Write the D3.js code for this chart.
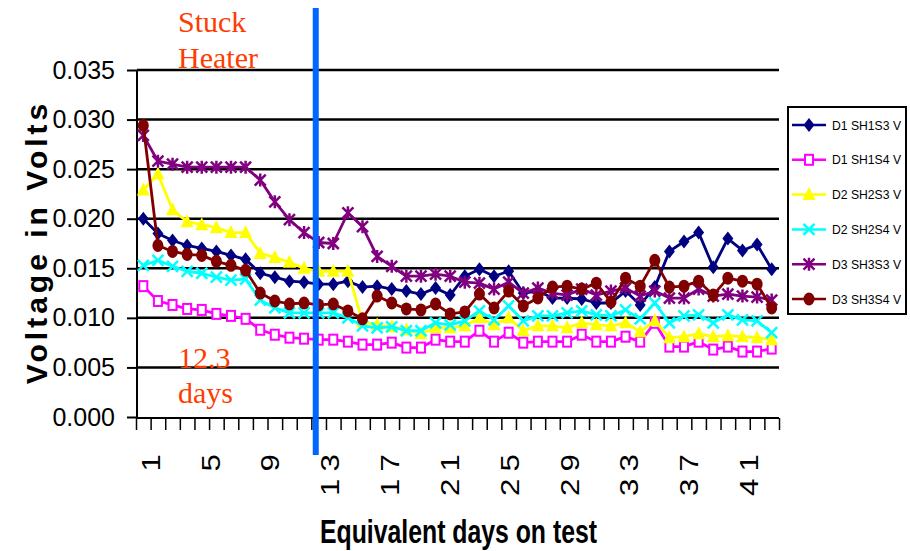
<!DOCTYPE html>
<html><head><meta charset="utf-8">
<script src="https://cdn.jsdelivr.net/npm/d3@7/dist/d3.min.js"></script>
<style>body{margin:0;background:#fff}svg{display:block}</style>
</head><body><svg id="c" width="910" height="551"></svg>
<script>
const categories = [1,2,3,4,5,6,7,8,9,10,11,12,13,14,15,16,17,18,19,20,21,22,23,24,25,26,27,28,29,30,31,32,33,34,35,36,37,38,39,40,41,42,43,44];
const labelCategories = [1,2,3,4,5,6,7,8,9,10,11,12,13,14,15,16,17,18,19,20,21,22,23,24,25,26,27,28,29,30,31,32,33,34,35,36,37,38,39,40,41,42,43];
const xTickLabels = [1,5,9,13,17,21,25,29,33,37,41];
const yTicks = [0,0.005,0.010,0.015,0.020,0.025,0.030,0.035];
const seriesNames = ["D1 SH1S3 V","D1 SH1S4 V","D2 SH2S3 V","D2 SH2S4 V","D3 SH3S3 V","D3 SH3S4 V"];
const seriesColors = ["#000080","#ff00ff","#ffff00","#00ffff","#800080","#800000"];
const seriesMarkers = ["diamond","square","triangle","x","star","circle"];
const d1sh1s3 = [0.0200,0.0185,0.0178,0.0173,0.0170,0.0167,0.0163,0.0159,0.0145,0.0141,0.0137,0.0136,0.0134,0.0134,0.0137,0.0131,0.0132,0.0129,0.0127,0.0124,0.0130,0.0123,0.0142,0.0149,0.0142,0.0147,0.0125,0.0127,0.0120,0.0120,0.0119,0.0115,0.0115,0.0127,0.0113,0.0131,0.0167,0.0177,0.0186,0.0151,0.0180,0.0168,0.0174,0.0149];
const d1sh1s4 = [0.0132,0.0117,0.0113,0.0109,0.0108,0.0104,0.0102,0.0099,0.0088,0.0083,0.0080,0.0079,0.0078,0.0078,0.0076,0.0073,0.0073,0.0075,0.0070,0.0070,0.0078,0.0076,0.0076,0.0087,0.0076,0.0085,0.0075,0.0076,0.0076,0.0076,0.0083,0.0076,0.0076,0.0081,0.0076,0.0095,0.0071,0.0071,0.0076,0.0068,0.0071,0.0066,0.0066,0.0069];
const d2sh2s3 = [0.0229,0.0245,0.0209,0.0197,0.0194,0.0191,0.0186,0.0186,0.0165,0.0161,0.0156,0.0150,0.0147,0.0147,0.0147,0.0096,0.0093,0.0091,0.0088,0.0084,0.0090,0.0090,0.0092,0.0100,0.0093,0.0100,0.0087,0.0092,0.0092,0.0090,0.0095,0.0093,0.0092,0.0095,0.0086,0.0097,0.0080,0.0081,0.0084,0.0081,0.0082,0.0081,0.0080,0.0078];
const d2sh2s4 = [0.0153,0.0158,0.0152,0.0147,0.0145,0.0141,0.0138,0.0139,0.0118,0.0110,0.0105,0.0105,0.0105,0.0105,0.0100,0.0092,0.0090,0.0091,0.0087,0.0087,0.0095,0.0093,0.0097,0.0107,0.0098,0.0112,0.0097,0.0102,0.0102,0.0105,0.0107,0.0103,0.0102,0.0108,0.0099,0.0115,0.0095,0.0102,0.0103,0.0095,0.0103,0.0098,0.0097,0.0085];
const d3sh3s3 = [0.0284,0.0258,0.0255,0.0252,0.0252,0.0252,0.0252,0.0252,0.0239,0.0217,0.0199,0.0186,0.0176,0.0175,0.0206,0.0192,0.0162,0.0152,0.0142,0.0142,0.0144,0.0142,0.0136,0.0135,0.0129,0.0136,0.0125,0.0130,0.0125,0.0123,0.0129,0.0123,0.0127,0.0130,0.0122,0.0127,0.0120,0.0120,0.0129,0.0122,0.0124,0.0122,0.0121,0.0118];
const d3sh3s4 = [0.0294,0.0173,0.0167,0.0164,0.0163,0.0157,0.0153,0.0148,0.0125,0.0117,0.0114,0.0115,0.0113,0.0114,0.0107,0.0099,0.0122,0.0115,0.0109,0.0108,0.0114,0.0104,0.0106,0.0124,0.0110,0.0127,0.0112,0.0120,0.0131,0.0132,0.0129,0.0135,0.0116,0.0140,0.0132,0.0158,0.0131,0.0132,0.0137,0.0123,0.0140,0.0137,0.0134,0.0110];
const heaterDay = 12.3;
const annotationTop = ["Stuck","Heater"];
const annotationBottom = ["12.3","days"];

(function(){
const seriesValues = [d1sh1s3,d1sh1s4,d2sh2s3,d2sh2s4,d3sh3s3,d3sh3s4];
const series = seriesNames.map((n,i)=>({name:n,color:seriesColors[i],marker:seriesMarkers[i],values:seriesValues[i]}));

const svg = d3.select("#c");
const pLeft = 136, pRight = 779, pTop = 70, pBottom = 417;
const x = d3.scaleBand().domain(categories).range([pLeft,pRight]).padding(0);
const xLabels = d3.scaleBand().domain(labelCategories).range([pLeft,pRight]).padding(0);
const xLin = d3.scaleLinear().domain([0,categories.length]).range([pLeft,pRight]);
const y = d3.scaleLinear().domain([0,0.035]).range([pBottom,pTop]);
const cx = d => x(d) + x.bandwidth()/2;

svg.append("g").selectAll("line").data(yTicks.filter(t=>t>0)).join("line")
  .attr("x1",pLeft+1).attr("x2",pRight).attr("y1",d=>y(d)).attr("y2",d=>y(d))
  .attr("stroke","#000").attr("stroke-width",2.5);

const yAxis = svg.append("g").attr("transform",`translate(${pLeft+1},0)`)
  .call(d3.axisLeft(y).tickValues(yTicks).tickFormat(d3.format(".3f")).tickSize(10).tickPadding(12));
yAxis.select(".domain").attr("stroke","#000").attr("stroke-width",2).attr("d",`M0,${pTop}V${pBottom+2}`);
yAxis.selectAll(".tick line").attr("stroke","#000").attr("stroke-width",2);
yAxis.selectAll(".tick text").attr("font-family","Liberation Sans, Arial, sans-serif").attr("font-size",25).attr("fill","#000");

const xAxis = svg.append("g").attr("transform",`translate(0,${pBottom+1})`)
  .call(d3.axisBottom(xLin).tickValues(d3.range(0,categories.length+1)).tickFormat("").tickSize(12));
xAxis.select(".domain").attr("stroke","#000").attr("stroke-width",2).attr("d",`M${pLeft},0H${pRight}`);
xAxis.selectAll(".tick line").attr("stroke","#000").attr("stroke-width",1.5);

const xLab = svg.append("g").attr("transform",`translate(0,${pBottom+1})`)
  .call(d3.axisBottom(xLabels).tickValues(xTickLabels).tickSize(0).tickFormat(d=>String(d)));
xLab.select(".domain").remove();
xLab.selectAll(".tick text")
  .attr("font-family","Liberation Sans, Arial, sans-serif").attr("font-size",26).attr("fill","#000")
  .attr("letter-spacing","6px")
  .attr("text-anchor","end").attr("transform","translate(7,29) rotate(-90) scale(1.2,1)")
  .attr("x",0).attr("y",0).attr("dy","0.36em");

function drawMarker(g, type, color){
  if(type==="diamond") g.append("path").attr("d","M0,-7L5.5,0L0,7L-5.5,0Z").attr("fill",color);
  else if(type==="square") g.append("rect").attr("x",-4).attr("y",-5).attr("width",8).attr("height",10).attr("fill","#fff").attr("stroke",color).attr("stroke-width",2);
  else if(type==="triangle") g.append("path").attr("d","M0,-7.5L6.5,5.5L-6.5,5.5Z").attr("fill",color);
  else if(type==="x") g.append("path").attr("d","M-5.5,-5.5L5.5,5.5M-5.5,5.5L5.5,-5.5").attr("stroke",color).attr("stroke-width",2.5).attr("fill","none");
  else if(type==="star") g.append("path").attr("d","M-5.5,-5.5L5.5,5.5M-5.5,5.5L5.5,-5.5M0,-6.5L0,6.5").attr("stroke",color).attr("stroke-width",2.5).attr("fill","none");
  else if(type==="circle") g.append("ellipse").attr("rx",5.5).attr("ry",6.5).attr("fill",color);
}

const line = d3.line().x((d,i)=>cx(categories[i])).y(d=>y(d));
const sg = svg.append("g").selectAll("g").data(series).join("g");
sg.append("path").attr("d",d=>line(d.values)).attr("fill","none")
  .attr("stroke",d=>d.color).attr("stroke-width",2.8).attr("stroke-linejoin","round");
sg.each(function(s){
  const g = d3.select(this);
  s.values.forEach((v,i)=>{
    const m = g.append("g").attr("transform",`translate(${cx(categories[i])},${y(v)})`);
    drawMarker(m, s.marker, s.color);
  });
});

svg.append("line").attr("x1",xLin(heaterDay)).attr("x2",xLin(heaterDay)).attr("y1",8).attr("y2",455)
  .attr("stroke","#0066ff").attr("stroke-width",6);

const annColor = "#ff3c00";
svg.append("g").selectAll("text").data(annotationTop).join("text")
  .attr("x",178).attr("y",(d,i)=>32+i*36).text(d=>d)
  .attr("font-family","Liberation Serif, Times New Roman, serif").attr("font-size",30).attr("fill",annColor);
svg.append("g").selectAll("text").data(annotationBottom).join("text")
  .attr("x",178).attr("y",(d,i)=>368+i*35).text(d=>d)
  .attr("font-family","Liberation Serif, Times New Roman, serif").attr("font-size",30).attr("fill",annColor);

svg.append("text").attr("transform","translate(36,242) rotate(-90)").attr("text-anchor","middle").attr("dy","0.35em")
  .attr("font-family","Liberation Sans, Arial, sans-serif").attr("font-weight","bold").attr("font-size",30)
  .attr("letter-spacing","4px").text("Voltage in Volts");
svg.append("text").attr("x",320).attr("y",543)
  .attr("font-family","Liberation Sans, Arial, sans-serif").attr("font-weight","bold").attr("font-size",33)
  .attr("textLength",277).attr("lengthAdjust","spacingAndGlyphs").text("Equivalent days on test");

const lg = svg.append("g");
lg.append("rect").attr("x",788).attr("y",107).attr("width",118).attr("height",207).attr("fill","#fff").attr("stroke","#000").attr("stroke-width",2);
const le = lg.selectAll("g").data(series).join("g").attr("transform",(d,i)=>`translate(0,${125+i*34.8})`);
le.append("line").attr("x1",792).attr("x2",826).attr("stroke",d=>d.color).attr("stroke-width",2.5);
le.each(function(s){ const m = d3.select(this).append("g").attr("transform","translate(809,0)"); drawMarker(m,s.marker,s.color); });
le.append("text").attr("x",832).attr("dy","0.35em").text(d=>d.name)
  .attr("font-family","Liberation Sans, Arial, sans-serif").attr("font-size",13).attr("fill","#000")
  .attr("textLength",69).attr("lengthAdjust","spacingAndGlyphs");
})();
</script></body></html>
